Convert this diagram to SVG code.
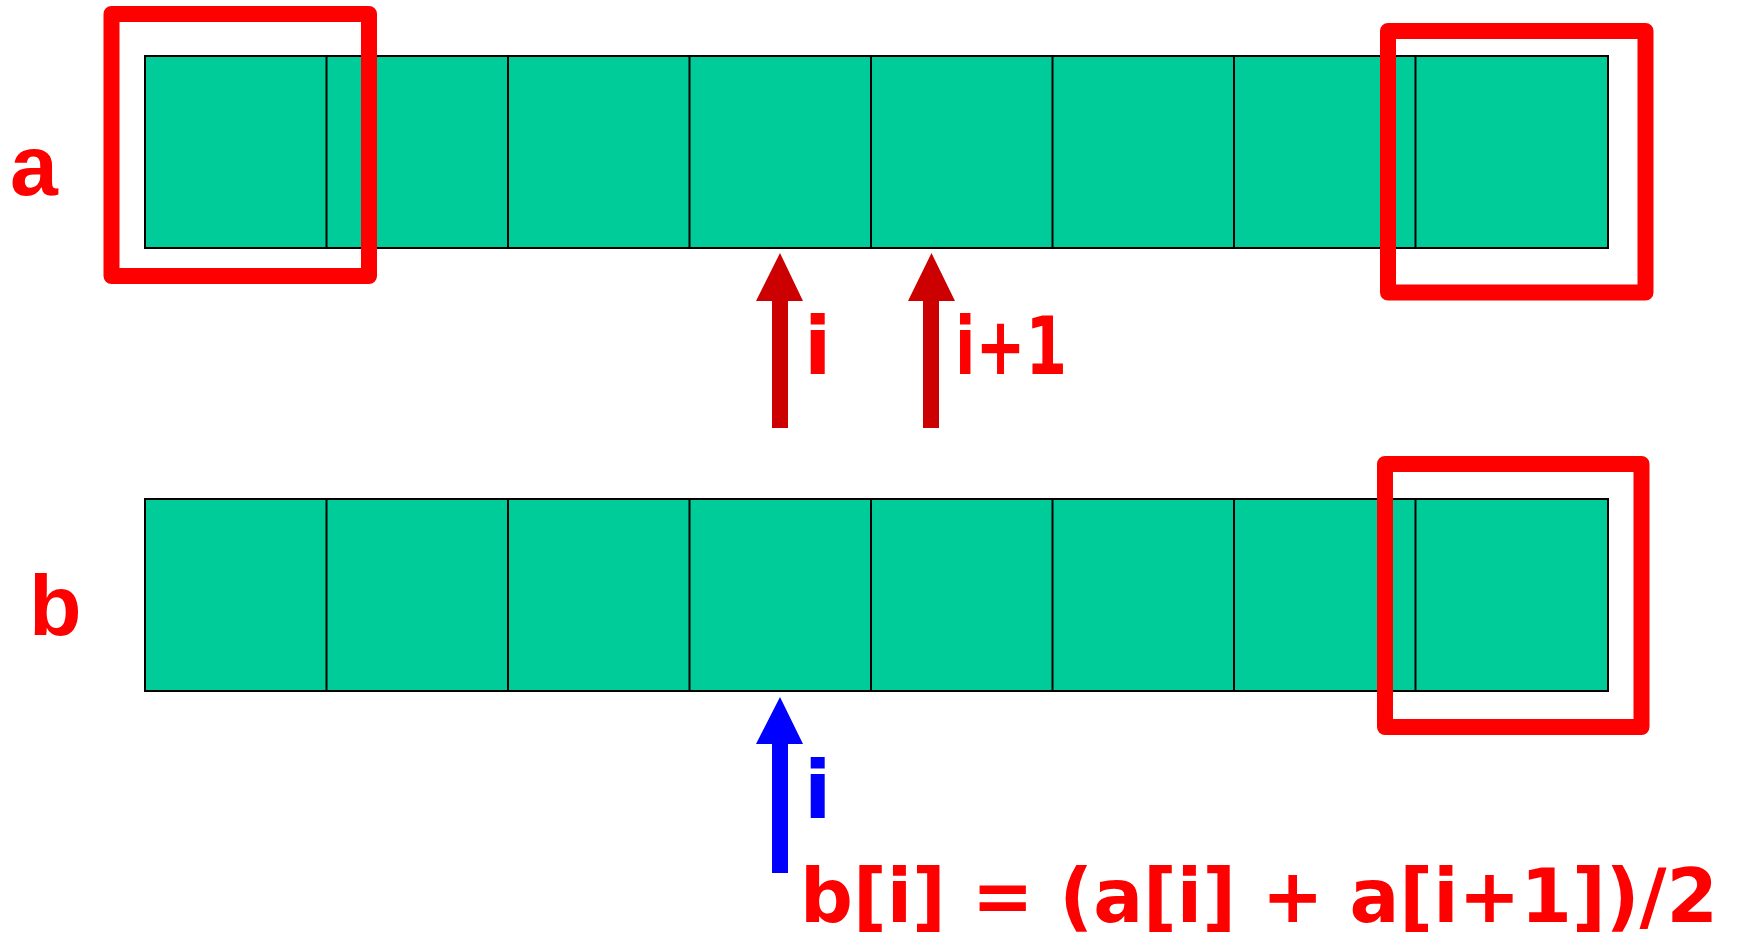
<svg xmlns="http://www.w3.org/2000/svg" width="1738" height="950" viewBox="0 0 1738 950">
<style>
.cell{fill:#00CC99;stroke:#000;stroke-width:2}
.hl{fill:none;stroke:#FF0000;stroke-width:16;stroke-linejoin:round}
.lbl{font-family:"Liberation Sans",Arial,sans-serif;font-weight:bold;font-size:86px;fill:#FF0000}
.idx{font-family:"DejaVu Sans",sans-serif;font-weight:bold;font-size:80px}
</style>
<rect width="1738" height="950" fill="#fff"/>
<g id="array-a">
<rect class="cell" x="145" y="56" width="192" height="192"/>
<rect class="cell" x="326.5" y="56" width="192" height="192"/>
<rect class="cell" x="508" y="56" width="192" height="192"/>
<rect class="cell" x="689.5" y="56" width="192" height="192"/>
<rect class="cell" x="871" y="56" width="192" height="192"/>
<rect class="cell" x="1052.5" y="56" width="192" height="192"/>
<rect class="cell" x="1234" y="56" width="192" height="192"/>
<rect class="cell" x="1415.5" y="56" width="192.5" height="192"/>
</g>
<g id="array-b">
<rect class="cell" x="145" y="499" width="192" height="192"/>
<rect class="cell" x="326.5" y="499" width="192" height="192"/>
<rect class="cell" x="508" y="499" width="192" height="192"/>
<rect class="cell" x="689.5" y="499" width="192" height="192"/>
<rect class="cell" x="871" y="499" width="192" height="192"/>
<rect class="cell" x="1052.5" y="499" width="192" height="192"/>
<rect class="cell" x="1234" y="499" width="192" height="192"/>
<rect class="cell" x="1415.5" y="499" width="192.5" height="192"/>
</g>
<g id="highlights">
<rect class="hl" x="111.5" y="14" width="257.5" height="262"/>
<rect class="hl" x="1388" y="31" width="257.5" height="261.5"/>
<rect class="hl" x="1385" y="464" width="256.5" height="263"/>
</g>
<g id="label-a"><text class="lbl" x="10" y="195">a</text></g>
<g id="label-b"><text class="lbl" x="29" y="635">b</text></g>
<g id="connectors">
<polygon fill="#CC0000" points="780,253 803,301 788,301 788,428 772,428 772,301 756,301"/>
<polygon fill="#CC0000" points="931.5,253 955,301 939,301 939,428 923,428 923,301 908,301"/>
<polygon fill="#0000FF" points="780,697 803,744 788,744 788,873 772,873 772,744 756,744"/>
</g>
<g id="index-labels">
<text class="idx" x="804" y="374" fill="#FF0000">i</text>
<text class="idx" x="955" y="374" fill="#FF0000" textLength="112" lengthAdjust="spacingAndGlyphs">i+1</text>
<text class="idx" x="804" y="818" fill="#0000FF">i</text>
</g>
<g id="formula">
<text x="800" y="922" font-family="DejaVu Sans,sans-serif" font-weight="bold" font-size="74" fill="#FF0000" textLength="918" lengthAdjust="spacingAndGlyphs">b[i] = (a[i] + a[i+1])/2</text>
</g>
</svg>
